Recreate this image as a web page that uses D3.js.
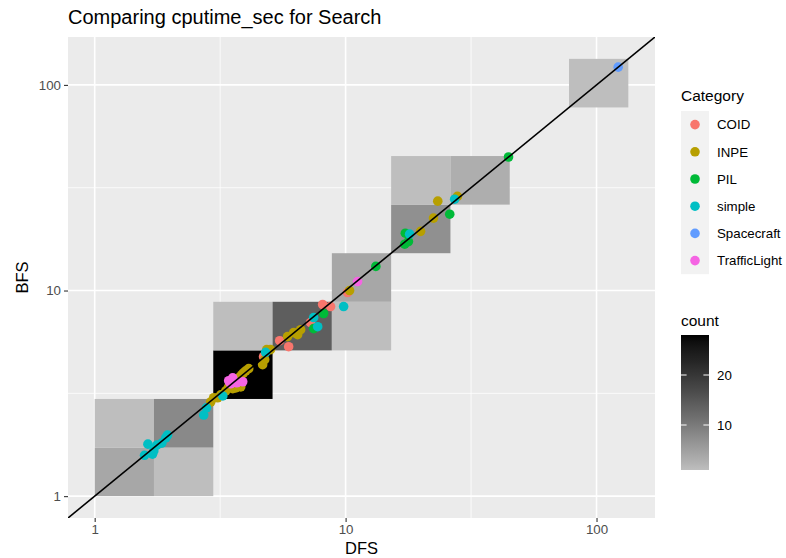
<!DOCTYPE html>
<html>
<head>
<meta charset="utf-8">
<script src="https://cdn.jsdelivr.net/npm/d3@7"></script>
<style>
  body { margin: 0; background: #fff; }
  svg { display: block; font-family: "Liberation Sans", Arial, Helvetica, sans-serif; }
</style>
</head>
<body>
<svg id="chart" width="786" height="558"></svg>
<script>
// ---------------- data ----------------
const categories = ["COID", "INPE", "PIL", "simple", "Spacecraft", "TrafficLight"];
const categoryColors = ["#F8766D", "#B79F00", "#00BA38", "#00BFC4", "#619CFF", "#F564E3"];

const coidDFS = [4.71, 5.46, 5.93, 7.25, 8.10, 8.71, 10.18];
const coidBFS = [4.77, 5.70, 5.33, 6.98, 8.55, 8.36, 9.78];

const inpeDFS = [2.98, 2.90, 3.09, 3.18, 3.33, 3.42, 3.55, 3.65, 3.82, 3.75, 3.85, 3.92, 4.00, 4.11, 4.67, 4.76, 4.85, 5.02, 5.87, 6.21, 6.44, 6.62, 10.37, 19.9, 22.4, 23.3, 27.9];
const inpeBFS = [3.01, 2.87, 3.01, 3.11, 3.25, 3.40, 3.33, 3.36, 3.40, 3.76, 3.89, 3.98, 4.07, 4.17, 4.36, 4.61, 5.16, 5.16, 5.97, 6.24, 6.10, 6.45, 10.0, 19.4, 22.5, 27.2, 28.7];

const pilDFS = [7.46, 8.17, 13.2, 17.3, 17.8, 17.2, 26.0, 44.6];
const pilBFS = [6.53, 7.73, 13.1, 19.0, 17.3, 16.8, 23.5, 44.6];

const simpleDFS = [1.58, 1.70, 1.72, 1.63, 1.77, 1.85, 1.92, 1.95, 2.72, 2.79, 3.24, 4.80, 7.46, 7.74, 9.82, 18.0, 27.2];
const simpleBFS = [1.58, 1.60, 1.66, 1.79, 1.77, 1.81, 1.92, 1.98, 2.48, 2.69, 3.07, 5.00, 7.39, 6.67, 8.36, 18.8, 27.8];

const spacecraftDFS = [122];
const spacecraftBFS = [122];

const trafficDFS = [3.42, 3.55, 3.68, 3.89, 3.48, 11.16];
const trafficBFS = [3.64, 3.76, 3.56, 3.60, 3.52, 11.06];

// 2D bins (log10 bin width shared by both axes), index of each cell and its count
const binWidthLog = 0.2363;
const binCountX = 9;
const binXIndex = [0, 1, 0, 1, 2, 2, 3, 4, 4, 5, 5, 6, 8];
const binYIndex = [0, 0, 1, 1, 2, 3, 3, 3, 4, 5, 6, 6, 8];
const binCount  = [4, 1, 1, 8, 28, 1, 14, 1, 4, 7, 1, 3, 1];

const axisTicks = [1, 10, 100];
const minorTicks = [Math.sqrt(10), Math.sqrt(1000)];
const countTicks = [10, 20];
const countRange = [1, 28];

const seriesDFS = [coidDFS, inpeDFS, pilDFS, simpleDFS, spacecraftDFS, trafficDFS];
const seriesBFS = [coidBFS, inpeBFS, pilBFS, simpleBFS, spacecraftBFS, trafficBFS];

// ---------------- layout ----------------
const svg = d3.select("#chart");
const P = { l: 68, r: 655, t: 37, b: 518 };
const logMax = binWidthLog * binCountX;
const pad = 0.05 * logMax;
const dom = [Math.pow(10, -pad), Math.pow(10, logMax + pad)];

const x = d3.scaleLog().domain(dom).range([P.l, P.r]);
const y = d3.scaleLog().domain(dom).range([P.b, P.t]);
const fill = d3.scaleLinear().domain(countRange).range(["#BEBEBE", "#000000"]).interpolate(d3.interpolateLab);

svg.append("defs").append("clipPath").attr("id", "clip")
  .append("rect").attr("x", P.l).attr("y", P.t).attr("width", P.r - P.l).attr("height", P.b - P.t);

// panel background
svg.append("rect").attr("x", P.l).attr("y", P.t).attr("width", P.r - P.l).attr("height", P.b - P.t).attr("fill", "#EBEBEB");

// grid
const grid = svg.append("g");
grid.selectAll(".mx").data(minorTicks).enter().append("line")
  .attr("x1", d => x(d)).attr("x2", d => x(d)).attr("y1", P.t).attr("y2", P.b)
  .attr("stroke", "#fff").attr("stroke-width", 0.8);
grid.selectAll(".my").data(minorTicks).enter().append("line")
  .attr("y1", d => y(d)).attr("y2", d => y(d)).attr("x1", P.l).attr("x2", P.r)
  .attr("stroke", "#fff").attr("stroke-width", 0.8);
grid.selectAll(".Mx").data(axisTicks).enter().append("line")
  .attr("x1", d => x(d)).attr("x2", d => x(d)).attr("y1", P.t).attr("y2", P.b)
  .attr("stroke", "#fff").attr("stroke-width", 1.6);
grid.selectAll(".My").data(axisTicks).enter().append("line")
  .attr("y1", d => y(d)).attr("y2", d => y(d)).attr("x1", P.l).attr("x2", P.r)
  .attr("stroke", "#fff").attr("stroke-width", 1.6);

// bins
const bins = binCount.map((c, k) => ({ i: binXIndex[k], j: binYIndex[k], c }));
svg.append("g").selectAll("rect").data(bins).enter().append("rect")
  .attr("x", d => x(Math.pow(10, d.i * binWidthLog)))
  .attr("width", d => x(Math.pow(10, (d.i + 1) * binWidthLog)) - x(Math.pow(10, d.i * binWidthLog)))
  .attr("y", d => y(Math.pow(10, (d.j + 1) * binWidthLog)))
  .attr("height", d => y(Math.pow(10, d.j * binWidthLog)) - y(Math.pow(10, (d.j + 1) * binWidthLog)))
  .attr("fill", d => fill(d.c));

// points
const pts = [];
categories.forEach((cat, ci) => {
  seriesDFS[ci].forEach((v, k) => pts.push({ dfs: v, bfs: seriesBFS[ci][k], ci }));
});
svg.append("g").attr("clip-path", "url(#clip)").selectAll("circle").data(pts).enter().append("circle")
  .attr("cx", d => x(d.dfs)).attr("cy", d => y(d.bfs)).attr("r", 4.8)
  .attr("fill", d => categoryColors[d.ci]);

// y = x line
svg.append("line").attr("clip-path", "url(#clip)")
  .attr("x1", x(dom[0])).attr("y1", y(dom[0])).attr("x2", x(dom[1])).attr("y2", y(dom[1]))
  .attr("stroke", "#000").attr("stroke-width", 1.6);

// axes
const xAxis = svg.append("g").attr("transform", `translate(0,${P.b})`)
  .call(d3.axisBottom(x).tickValues(axisTicks).tickFormat(d3.format("d")).tickSizeOuter(0).tickSizeInner(4).tickPadding(3));
const yAxis = svg.append("g").attr("transform", `translate(${P.l},0)`)
  .call(d3.axisLeft(y).tickValues(axisTicks).tickFormat(d3.format("d")).tickSizeOuter(0).tickSizeInner(4).tickPadding(3));
[xAxis, yAxis].forEach(a => {
  a.select(".domain").remove();
  a.selectAll(".tick line").attr("stroke", "#333").attr("stroke-width", 1.1);
  a.selectAll(".tick text").attr("fill", "#4D4D4D").style("font-size", "13.3px").style("font-family", "Liberation Sans, Arial, sans-serif");
});

// titles
svg.append("text").attr("x", P.l).attr("y", 24).text("Comparing cputime_sec for Search")
  .style("font-size", "20px").attr("fill", "#000");
svg.append("text").attr("x", (P.l + P.r) / 2).attr("y", 554).attr("text-anchor", "middle").text("DFS")
  .style("font-size", "16.5px").attr("fill", "#000");
svg.append("text").attr("transform", `translate(28,${(P.t + P.b) / 2}) rotate(-90)`).attr("text-anchor", "middle").text("BFS")
  .style("font-size", "16.5px").attr("fill", "#000");

// legend: Category
const lg = svg.append("g");
lg.append("text").attr("x", 681).attr("y", 101).text("Category").style("font-size", "15.5px");
const keyH = 27.2, keyTop = 111;
lg.append("rect").attr("x", 681).attr("y", keyTop).attr("width", 28).attr("height", keyH * categories.length).attr("fill", "#F2F2F2");
categories.forEach((c, i) => {
  lg.append("circle").attr("cx", 695).attr("cy", keyTop + keyH * (i + 0.5)).attr("r", 4.8).attr("fill", categoryColors[i]);
  lg.append("text").attr("x", 717).attr("y", keyTop + keyH * (i + 0.5) + 4.7).text(c).style("font-size", "13.3px").attr("fill", "#000");
});

// legend: count colorbar
const cb = svg.append("g");
cb.append("text").attr("x", 681).attr("y", 326).text("count").style("font-size", "15.5px");
const barTop = 335, barBot = 470, barX = 681, barW = 28;
const cy = d3.scaleLinear().domain(countRange).range([barBot, barTop]);
const grad = svg.select("defs").append("linearGradient").attr("id", "cg").attr("x1", 0).attr("y1", 1).attr("x2", 0).attr("y2", 0);
d3.range(0, 21).forEach(k => {
  const v = countRange[0] + (countRange[1] - countRange[0]) * k / 20;
  grad.append("stop").attr("offset", k / 20).attr("stop-color", fill(v));
});
cb.append("rect").attr("x", barX).attr("y", barTop).attr("width", barW).attr("height", barBot - barTop).attr("fill", "url(#cg)");
countTicks.forEach(t => {
  cb.append("line").attr("x1", barX).attr("x2", barX + 5.6).attr("y1", cy(t)).attr("y2", cy(t)).attr("stroke", "#fff").attr("stroke-width", 1);
  cb.append("line").attr("x1", barX + barW - 5.6).attr("x2", barX + barW).attr("y1", cy(t)).attr("y2", cy(t)).attr("stroke", "#fff").attr("stroke-width", 1);
  cb.append("text").attr("x", 717).attr("y", cy(t) + 4.7).text(t).style("font-size", "13.3px");
});
</script>
</body>
</html>
